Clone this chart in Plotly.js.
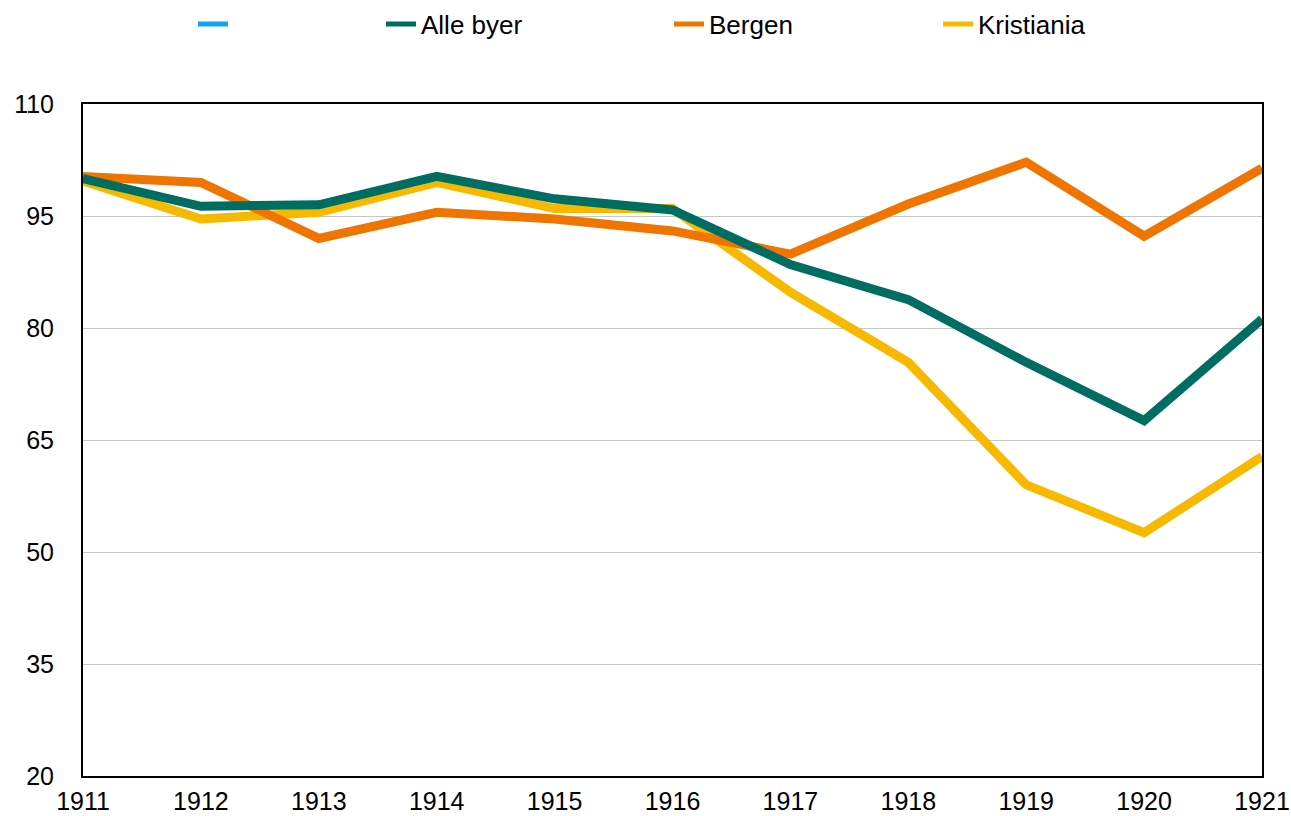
<!DOCTYPE html>
<html>
<head>
<meta charset="utf-8">
<script src="https://cdn.plot.ly/plotly-3.0.1.min.js"></script>
<style>html,body{margin:0;padding:0;background:#fff;}#chart{width:1291px;height:816px;}</style>
</head>
<body>
<div id="chart"></div>
<script>
const years = [1911, 1912, 1913, 1914, 1915, 1916, 1917, 1918, 1919, 1920, 1921];
const alleByer = [100.0, 96.3, 96.5, 100.3, 97.3, 95.8, 88.5, 83.8, 75.4, 67.6, 81.2];
const bergen = [100.3, 99.5, 92.0, 95.5, 94.6, 93.0, 89.9, 96.6, 102.2, 92.3, 101.4];
const kristiania = [99.7, 94.6, 95.5, 99.5, 96.0, 96.0, 84.8, 75.4, 59.0, 52.6, 62.8];
const blank = years.map(() => null);
const yTicks = [20, 35, 50, 65, 80, 95, 110];
const seriesNames = [' ', 'Alle byer', 'Bergen', 'Kristiania'];
const seriesColors = ['#14a3f2', '#006d63', '#f07400', '#f7b900'];

const font = 'Liberation Sans, Arial, Helvetica, sans-serif';
const lw = 9;
const traces = [
  {x: years, y: kristiania, name: seriesNames[3], mode: 'lines', line: {color: seriesColors[3], width: lw}, showlegend: false},
  {x: years, y: bergen, name: seriesNames[2], mode: 'lines', line: {color: seriesColors[2], width: lw}, showlegend: false},
  {x: years, y: alleByer, name: seriesNames[1], mode: 'lines', line: {color: seriesColors[1], width: lw}, showlegend: false}
];
const legendIds = ['legend', 'legend2', 'legend3', 'legend4'];
seriesNames.forEach((n, i) => {
  traces.push({x: years, y: blank, name: n, mode: 'lines', line: {color: seriesColors[i], width: 5},
    showlegend: true, legend: legendIds[i], hoverinfo: 'skip'});
});
const leg = (px) => ({orientation: 'h', xref: 'container', yref: 'container', x: px / 1291, y: 1 - 24 / 816,
  xanchor: 'left', yanchor: 'middle', font: {family: font, size: 26, color: '#000'}, bgcolor: 'rgba(0,0,0,0)'});
const layout = {
  width: 1291, height: 816,
  margin: {l: 83, r: 29, t: 104, b: 40},
  paper_bgcolor: '#fff', plot_bgcolor: '#fff',
  font: {family: font, size: 25, color: '#000'},
  showlegend: true,
  legend: leg(193), legend2: leg(381), legend3: leg(669), legend4: leg(938),
  xaxis: {range: [1911, 1921], tickvals: years, ticktext: years.map(String), showgrid: false, zeroline: false,
    showline: true, mirror: true, linecolor: '#000', linewidth: 2, ticks: '', ticklabelstandoff: 2,
    tickfont: {family: font, size: 25, color: '#000'}},
  yaxis: {range: [20, 110], tickvals: yTicks, ticktext: yTicks.map(String), showgrid: true, gridcolor: '#c6c6c6', gridwidth: 1,
    zeroline: false, showline: true, mirror: true, linecolor: '#000', linewidth: 2, ticks: '', ticklabelstandoff: 22,
    tickfont: {family: font, size: 25, color: '#000'}}
};
Plotly.newPlot('chart', traces, layout, {displayModeBar: false, staticPlot: true});
</script>
</body>
</html>
